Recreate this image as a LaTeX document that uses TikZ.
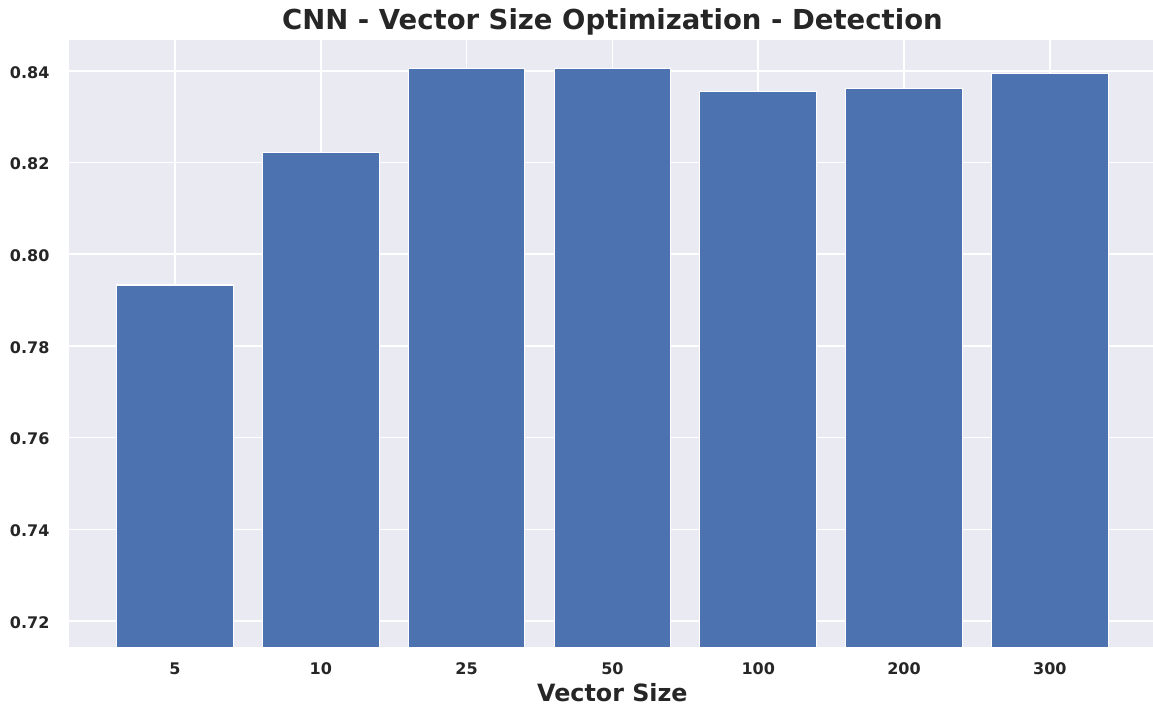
\documentclass[tikz,border=0pt]{standalone}
\usepackage{fontspec}
\setmainfont{DejaVu Sans}
\definecolor{panel}{HTML}{EAEAF2}
\definecolor{barblue}{HTML}{4C72B0}
\definecolor{ink}{HTML}{262626}
\begin{document}
\begin{tikzpicture}[x=145.8pt, y=45.835pt, text=ink,
    gridline/.style={white, line width=1.6pt},
    bar/.style={fill=barblue, draw=white, line width=1.1pt},
    ticklabel/.style={font=\fontsize{16}{16}\selectfont\bfseries},
    titlelabel/.style={font=\fontsize{27.5}{28}\selectfont\bfseries},
    axislabel/.style={font=\fontsize{23.8}{24}\selectfont\bfseries}]

    % 1. Khung hình và nền
    \useasboundingbox (-1.2003,70.036) rectangle (6.7078,85.549);
    \fill[panel] (-0.727,71.433) rectangle (6.708,84.676);

    % 2. Lưới
    \foreach \i in {0,...,6}
        \draw[gridline] (\i,71.433) -- (\i,84.676);
    \foreach \v in {72,74,...,84}
        \draw[gridline] (-0.727,\v) -- (6.708,\v);

    % 3. Các cột
    \begin{scope}
        \clip (-0.727,71.433) rectangle (6.708,84.676);
        \foreach \i/\v in {0/79.33, 1/82.22, 2/84.06, 3/84.06, 4/83.56, 5/83.62, 6/83.95}
            \draw[bar] (\i-0.4,70) rectangle (\i+0.4,\v);
    \end{scope}

    % 4. Nhãn trên các trục
    \foreach \i/\lab in {0/5, 1/10, 2/25, 3/50, 4/100, 5/200, 6/300}
        \node[ticklabel, anchor=base] (x\i) at (\i,70.822) {\lab};
    \foreach \v in {72,74,...,84}
        \node[ticklabel, anchor=base east] (y\v) at (-0.8368,\v-0.16) {0.\v};

    \node[axislabel, anchor=base] (xlab) at (3,70.233) {Vector Size};
    \node[titlelabel, anchor=base] (title) at (3,84.91) {CNN - Vector Size Optimization - Detection};

\end{tikzpicture}
\end{document}
